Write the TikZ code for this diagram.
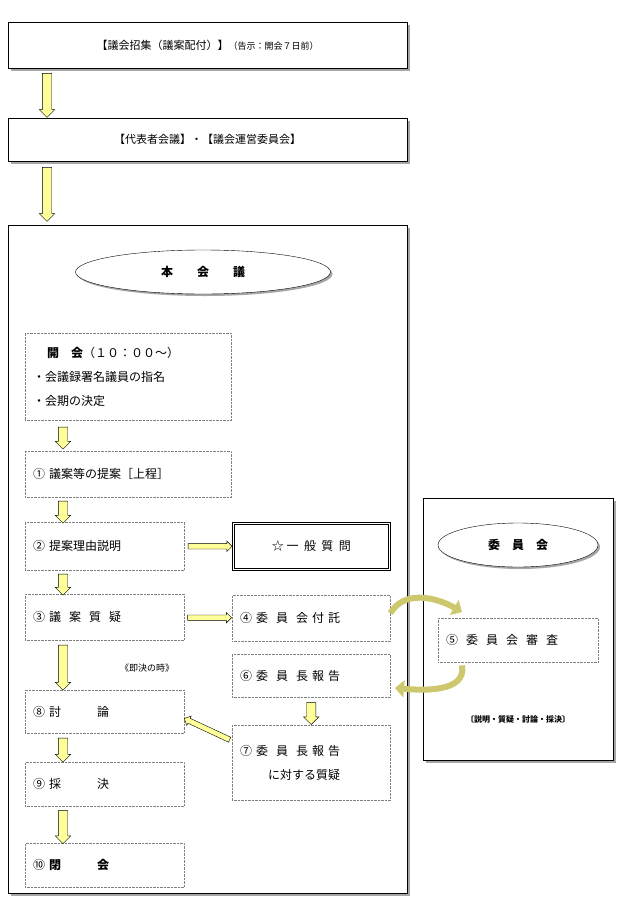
\documentclass[tikz,border=0pt]{standalone}
\usepackage{fontspec}
\setmainfont{Noto Sans CJK JP}
\usetikzlibrary{shapes}
\usetikzlibrary{shadows}
\usetikzlibrary{positioning}
\usetikzlibrary{arrows.meta}
\definecolor{arrowfill}{RGB}{255,255,153}
\definecolor{curvefill}{RGB}{205,200,110}
\tikzset{
    frame/.style = {rectangle, draw=black, fill=white, drop shadow={shadow xshift=2.5pt,shadow yshift=-2.5pt,fill=gray!70,opacity=1}},
    stepbox/.style = {rectangle, draw=gray, densely dotted, anchor=north west, align=left, text width=#1, inner xsep=8pt, font=\fontsize{12}{24}\selectfont},
    title/.style = {ellipse, draw=black, fill=white, drop shadow={shadow xshift=2pt,shadow yshift=-2pt,fill=gray!70,opacity=1}, font=\fontsize{12}{14}\selectfont\bfseries},
    downarrow/.style = {single arrow, draw=black, fill=arrowfill, rotate=-90, single arrow head extend=3pt, inner xsep=0pt, inner ysep=4.5pt},
    rightarrow/.style = {single arrow, draw=black, fill=arrowfill, single arrow head extend=2.5pt, inner xsep=0pt, inner ysep=2.5pt},
    curve/.style = {draw=curvefill, line width=6pt, -{Triangle[length=9pt,width=17pt]}}
}

\begin{document}
\begin{tikzpicture}[x=1pt,y=-1pt]
  \useasboundingbox (0,0) rectangle (630,910);
  % top boxes
  \node[frame, minimum width=399pt, minimum height=46pt, anchor=north west, font=\fontsize{11}{13}\selectfont] (call) at (8,22) {【議会招集（議案配付）】{\fontsize{9}{11}\selectfont（告示：開会７日前）}};
  \node[frame, minimum width=399pt, minimum height=43pt, anchor=north west, font=\fontsize{11}{13}\selectfont] (rep) at (8,118) {【代表者会議】・【議会運営委員会】};
  \node[frame, minimum width=399pt, minimum height=668pt, anchor=north west] (main) at (8,225) {};
  \node[frame, minimum width=190pt, minimum height=262pt, anchor=north west] (comm) at (423,498) {};
  \path (47,70) -- node[downarrow, minimum height=44pt] (a1) {} (47,116);
  \path (47,163) -- node[downarrow, minimum height=54pt] (a2) {} (47,221);

  % main session
  \node[title, minimum width=255pt, minimum height=44pt] (honkai) at (203,272) {本\quad\quad 会\quad\quad 議};
  \node[stepbox=190pt, minimum width=206pt, minimum height=87pt] (open) at (25,333) {\hspace{14pt}{\bfseries 開\quad 会}（１０：００～）\\・会議録署名議員の指名\\・会期の決定};
  \node[stepbox=190pt, minimum width=206pt, minimum height=46pt] (s1) at (25,451) {① 議案等の提案［上程］};
  \node[stepbox=143pt, minimum width=159pt, minimum height=48pt] (s2) at (25,522) {② 提案理由説明};
  \node[stepbox=143pt, minimum width=159pt, minimum height=46pt] (s3) at (25,594) {③ 議\ \ 案\ \ 質\ \ 疑};
  \node[stepbox=143pt, minimum width=159pt, minimum height=43pt] (s8) at (25,690) {⑧ 討\qquad\quad 論};
  \node[stepbox=143pt, minimum width=159pt, minimum height=44pt] (s9) at (25,762) {⑨ 採\qquad\quad 決};
  \node[stepbox=143pt, minimum width=159pt, minimum height=44pt] (s10) at (25,843) {⑩ {\bfseries 閉\qquad\quad 会}};
  \node[font=\fontsize{9}{11}\selectfont\itshape] (sokketsu) at (147,668) {《即決の時》};

  \node[rectangle, draw=black, double, double distance=1.2pt, thick, anchor=north west, minimum width=156pt, minimum height=46pt, font=\fontsize{12}{14}\selectfont] (ippan) at (233,523) {☆\ 一\ \ 般\ \ 質\ \ 問};
  \node[stepbox=142pt, minimum width=158pt, minimum height=46pt] (s4) at (232,595) {④ 委\ \ 員\ \ 会\ 付\ 託};
  \node[stepbox=142pt, minimum width=158pt, minimum height=43pt] (s6) at (232,654) {⑥ 委\ \ 員\ \ 長\ 報\ 告};
  \node[stepbox=142pt, minimum width=158pt, minimum height=75pt] (s7) at (232,725) {⑦ 委\ \ 員\ \ 長\ 報\ 告\\\hspace{28pt}に対する質疑};

  \path (open.south -| 63,0) -- node[downarrow, minimum height=22pt] (a3) {} (s1.north -| 63,0);
  \path (s1.south -| 63,0) -- node[downarrow, minimum height=22pt] (a4) {} (s2.north -| 63,0);
  \path (s2.south -| 63,0) -- node[downarrow, minimum height=21pt] (a5) {} (s3.north -| 63,0);
  \path (s3.south -| 63,0) -- node[downarrow, minimum height=45pt] (a6) {} (s8.north -| 63,0);
  \path (s8.south -| 63,0) -- node[downarrow, minimum height=24pt] (a7) {} (s9.north -| 63,0);
  \path (s9.south -| 63,0) -- node[downarrow, minimum height=33pt] (a8) {} (s10.north -| 63,0);
  \path (s6.south) -- node[downarrow, minimum height=22pt] (a9) {} (s7.north);
  \path (s2.east) -- node[rightarrow, minimum height=44pt] (a10) {} (ippan.west);
  \path (s3.east) -- node[rightarrow, minimum height=44pt] (a11) {} (s4.west);
  \path (s7.west) ++(0,-15) coordinate (c7) -- node[rightarrow, minimum height=50pt, rotate=155] (a12) {} (s8.east);

  % committee
  \node[title, minimum width=160pt, minimum height=44pt] (iinkai) at (518,545) {委\quad 員\quad 会};
  \node[stepbox=144pt, minimum width=160pt, minimum height=44pt] (s5) at (438,618) {⑤\ \ 委\ \ 員\ \ 会\ \ 審\ \ 査};
  \node[font=\fontsize{8}{10}\selectfont\bfseries] (detail) at (518,719) {〔説明・質疑・討論・採決〕};
  \draw[curve] (s4.east) ++(0,-5) to[out=60, in=150] (462,612);
  \draw[curve] (s5.south -| 462,0) ++(0,3) to[out=-80, in=-5] (395,688);
\end{tikzpicture}
\end{document}
